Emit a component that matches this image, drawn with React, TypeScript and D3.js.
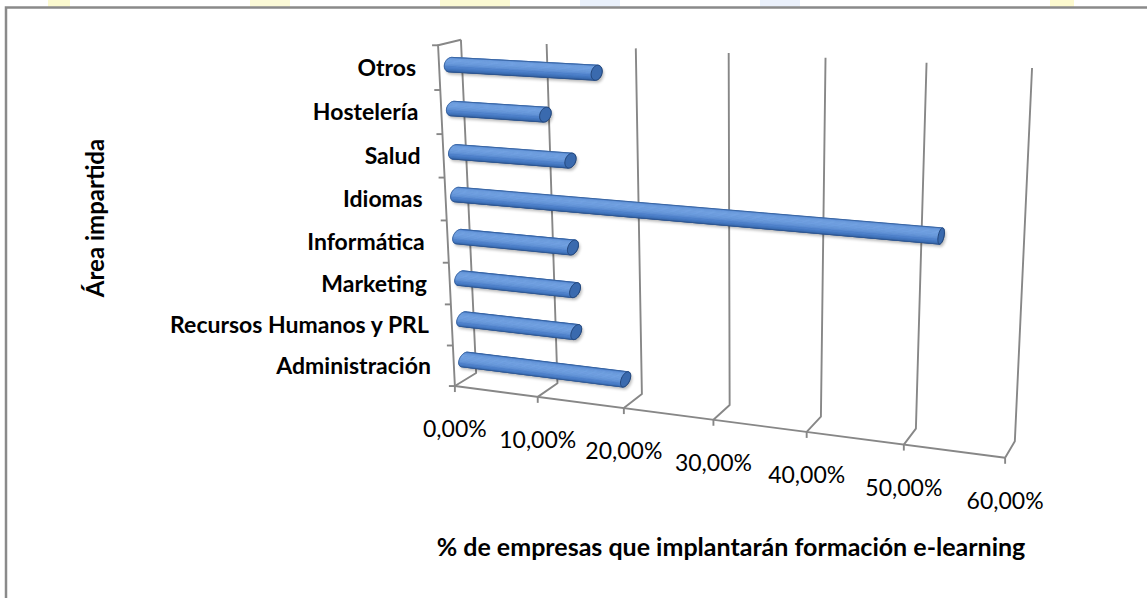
import React, { useMemo } from "react";
import * as d3 from "d3";

// ---------- data ----------
const categories = [
  "Administración",
  "Recursos Humanos y PRL",
  "Marketing",
  "Informática",
  "Idiomas",
  "Salud",
  "Hostelería",
  "Otros",
];
const values = [19.2, 13.6, 13.6, 13.5, 52.5, 13.5, 10.8, 16.7];
const xTicks = [0, 10, 20, 30, 40, 50, 60];
const xTickLabels = ["0,00%", "10,00%", "20,00%", "30,00%", "40,00%", "50,00%", "60,00%"];
const xTitle = "% de empresas que implantarán formación e-learning";
const yTitle = "Área impartida";

// ---------- layout: screen anchors of the 3D plot box corners (u, v, w -> px, py) ----------
// u: value axis (0..1), v: category axis (0 bottom..1 top), w: depth (0 back..1 front)
const boxAnchors: number[][] = [
  [0, 0, 0, 475, 372],
  [1, 0, 0, 1015, 442],
  [0, 1, 0, 462, 40],
  [1, 1, 0, 1032, 68],
  [0, 0, 1, 456, 387],
  [1, 0, 1, 1005, 457],
  [0, 1, 1, 437, 45],
];

function fitCamera(anchors: number[][]) {
  const rows: number[][] = [];
  const rhs: number[] = [];
  const s = 1000;
  for (const [X, Y, Z, px, py] of anchors) {
    const x = px / s, y = py / s;
    rows.push([X, Y, Z, 1, 0, 0, 0, 0, -x * X, -x * Y, -x * Z]);
    rhs.push(x);
    rows.push([0, 0, 0, 0, X, Y, Z, 1, -y * X, -y * Y, -y * Z]);
    rhs.push(y);
  }
  const n = 11;
  const M = Array.from({ length: n }, () => new Array(n + 1).fill(0));
  rows.forEach((r, k) => {
    for (let i = 0; i < n; i++) {
      for (let j = 0; j < n; j++) M[i][j] += r[i] * r[j];
      M[i][n] += r[i] * rhs[k];
    }
  });
  for (let c = 0; c < n; c++) {
    let p = c;
    for (let r = c + 1; r < n; r++) if (Math.abs(M[r][c]) > Math.abs(M[p][c])) p = r;
    [M[c], M[p]] = [M[p], M[c]];
    for (let r = 0; r < n; r++) {
      if (r === c) continue;
      const f = M[r][c] / M[c][c];
      for (let j = c; j <= n; j++) M[r][j] -= f * M[c][j];
    }
  }
  const p = M.map((r, i) => r[n] / r[i]);
  return (X: number, Y: number, Z: number): [number, number] => {
    const d = p[8] * X + p[9] * Y + p[10] * Z + 1;
    return [
      (s * (p[0] * X + p[1] * Y + p[2] * Z + p[3])) / d,
      (s * (p[4] * X + p[5] * Y + p[6] * Z + p[7])) / d,
    ];
  };
}

const FONT = "Lato, 'Liberation Sans', sans-serif";
const GRID = "#878787";

export default function App() {
  const proj = useMemo(() => fitCamera(boxAnchors), []);
  const xScale = d3.scaleLinear().domain([0, 60]).range([0, 1]);
  const yBand = d3.scaleBand<string>().domain(categories).range([0, 1]).padding(0);
  const line = d3.line();
  const seg = (a: [number, number], b: [number, number]) => line([a, b]) as string;

  // grid lines
  const gridPaths: string[] = [];
  xTicks.forEach((t) => {
    const u = xScale(t);
    gridPaths.push(line([proj(u, 1, 0), proj(u, 0, 0), proj(u, 0, 1)]) as string);
    const f = proj(u, 0, 1);
    gridPaths.push(seg(f, [f[0], f[1] + 6]));
  });
  gridPaths.push(seg(proj(0, 0, 1), proj(1, 0, 1)));
  gridPaths.push(line([proj(0, 1, 0), proj(0, 1, 1), proj(0, 0, 1)]) as string);
  const catTicks = d3.range(categories.length + 1).map((k) => k / categories.length);
  catTicks.forEach((v) => {
    const f = proj(0, v, 1);
    gridPaths.push(seg(f, [f[0] - 6, f[1]]));
  });

  // bars as projected cylinders
  const rv = 0.02;
  const rw = 0.28;
  const wc = 0.5;
  const N = 36;
  const thetas = d3.range(N + 1).map((i) => (i / N) * Math.PI * 2);
  const L = [0, 0.8, 0.6];
  const Ln = Math.hypot(L[0], L[1], L[2]);
  const shade = d3
    .scaleLinear<string>()
    .domain([-1, -0.2, 0.45, 1])
    .range(["#1d3a66", "#3463a6", "#4a7ec8", "#73a2e2"])
    .clamp(true);

  const bars = categories.map((c, i) => {
    const vc = (yBand(c) as number) + yBand.bandwidth() / 2;
    const ue = xScale(values[i]);
    const pt = (u: number, th: number) => proj(u, vc + rv * Math.sin(th), wc + rw * Math.cos(th));
    const refTh = Math.PI / 4;
    const refQuad = [pt(0, refTh), pt(0, refTh + 0.1), pt(ue, refTh + 0.1), pt(ue, refTh)];
    const refSign = Math.sign(d3.polygonArea(refQuad as [number, number][]));
    const strips: { d: string; fill: string }[] = [];
    for (let k = 0; k < N; k++) {
      const a = thetas[k], b = thetas[k + 1];
      const q = [pt(0, a), pt(0, b), pt(ue, b), pt(ue, a)] as [number, number][];
      if (Math.sign(d3.polygonArea(q)) !== refSign) continue;
      const m = (a + b) / 2;
      const dot = (Math.sin(m) * L[1] + Math.cos(m) * L[2]) / Ln;
      strips.push({ d: "M" + q.map((p) => p.join(",")).join("L") + "Z", fill: shade(dot) });
    }
    const capPts = thetas.map((th) => pt(ue, th));
    const allPts = [...thetas.map((th) => pt(0, th)), ...capPts];
    const hull = d3.polygonHull(allPts as [number, number][]) as [number, number][];
    return {
      key: c,
      strips,
      cap: "M" + capPts.map((p) => p.join(",")).join("L") + "Z",
      hull: "M" + hull.map((p) => p.join(",")).join("L") + "Z",
    };
  });

  // category labels
  const catLabels = categories.map((c) => {
    const vc = (yBand(c) as number) + yBand.bandwidth() / 2;
    const f = proj(0, vc, 1);
    return { c, x: f[0] - 23, y: f[1] };
  });

  const tickLabels = xTicks.map((t, i) => {
    const f = proj(xScale(t), 0, 1);
    return { t: xTickLabels[i], x: f[0], y: f[1] + 51 };
  });

  return (
    <svg
      width={1147}
      height={598}
      style={{ position: "absolute", left: 0, top: 0, background: "#fff" }}
    >
      <defs>
        <filter id="shadow" x="-10%" y="-50%" width="120%" height="200%">
          <feGaussianBlur stdDeviation="1.6" />
        </filter>
      </defs>
      {/* faint watermark strip at the top */}
      <g opacity={0.55}>
        <rect x={48} y={0} width={22} height={7} fill="#fbf6a8" />
        <rect x={250} y={0} width={40} height={7} fill="#fbf6b8" />
        <rect x={440} y={0} width={70} height={7} fill="#fbf6b0" />
        <rect x={580} y={0} width={40} height={7} fill="#d8e4f8" />
        <rect x={760} y={0} width={40} height={7} fill="#d8e4f8" />
        <rect x={1050} y={0} width={24} height={7} fill="#fbf6a8" />
      </g>
      <rect x={6} y={7.5} width={1300} height={800} fill="#fff" stroke="#8a8a8a" strokeWidth={2.5} />

      <g fill="none" stroke={GRID} strokeWidth={1.9} strokeLinejoin="round">
        {gridPaths.map((d, i) => (
          <path key={i} d={d} />
        ))}
      </g>

      {bars.map((b) => (
        <g key={b.key}>
          <path d={b.hull} transform="translate(1.5,2.5)" fill="#000" opacity={0.28} filter="url(#shadow)" />
          <path d={b.hull} fill="#2d5a98" />
          {b.strips.map((s, i) => (
            <path key={i} d={s.d} fill={s.fill} stroke={s.fill} strokeWidth={0.6} />
          ))}
          <path d={b.hull} fill="none" stroke="#2a5187" strokeWidth={0.8} opacity={0.8} />
          <path d={b.cap} fill="#3a6aae" stroke="#23477c" strokeWidth={1} />
        </g>
      ))}

      <g fontFamily={FONT} fontWeight="bold" fontSize={23} fill="#000">
        {catLabels.map((l) => (
          <text key={l.c} x={l.x} y={l.y} dy="0.36em" textAnchor="end">
            {l.c}
          </text>
        ))}
        <text transform="translate(104,218) rotate(-90)" textAnchor="middle" fontSize={24}>
          {yTitle}
        </text>
        <text x={731} y={556} textAnchor="middle" fontSize={25}>
          {xTitle}
        </text>
      </g>
      <g fontFamily={FONT} fontSize={23} fill="#000">
        {tickLabels.map((l) => (
          <text key={l.t} x={l.x} y={l.y} textAnchor="middle">
            {l.t}
          </text>
        ))}
      </g>
    </svg>
  );
}
